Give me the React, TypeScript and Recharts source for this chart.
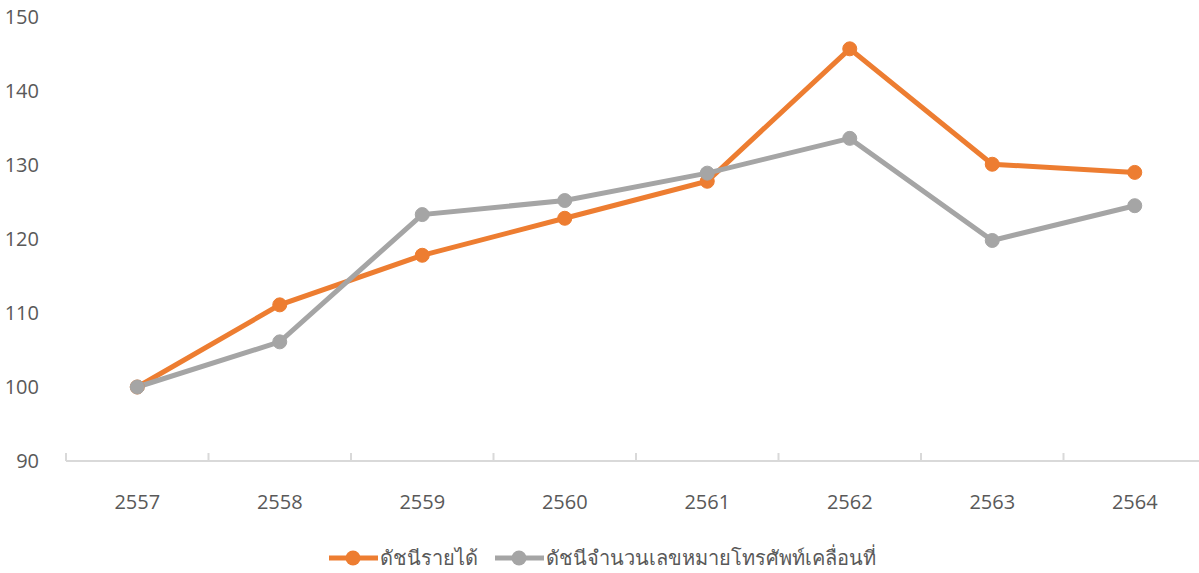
import React from 'react';
import { LineChart, Line, XAxis, YAxis, Legend } from 'recharts';

const YEARS = ['2557', '2558', '2559', '2560', '2561', '2562', '2563', '2564'];
const INCOME_INDEX = [100, 111.1, 117.8, 122.8, 127.8, 145.7, 130.1, 129.0];
const MOBILE_INDEX = [100, 106.1, 123.3, 125.2, 128.9, 133.6, 119.8, 124.5];
const Y_TICKS = [90, 100, 110, 120, 130, 140, 150];

const SERIES = [
    { key: 'income', name: 'ดัชนีรายได้', color: '#ED7D31', values: INCOME_INDEX },
    { key: 'mobile', name: 'ดัชนีจำนวนเลขหมายโทรศัพท์เคลื่อนที่', color: '#A5A5A5', values: MOBILE_INDEX },
];

const data = YEARS.map((year, i) => ({
    year,
    income: INCOME_INDEX[i],
    mobile: MOBILE_INDEX[i],
}));

const FONT = "'Open Sans', 'Noto Sans', sans-serif";
const TEXT_COLOR = '#595959';
const AXIS_COLOR = '#D9D9D9';

// category label plus Excel-style tick marks between categories (pointing up)
const YearTick = (props: any) => {
    const { x, y, payload, index, visibleTicksCount, width } = props;
    const half = payload?.offset || width / visibleTicksCount / 2;
    const axisY = y - 34;
    const isLast = index === visibleTicksCount - 1;
    return (
        <g>
            <line x1={x - half} x2={x - half} y1={axisY} y2={axisY - 8} stroke={AXIS_COLOR} strokeWidth={2} />
            {isLast && (
                <line x1={x + half} x2={x + half} y1={axisY} y2={axisY - 8} stroke={AXIS_COLOR} strokeWidth={2} />
            )}
            <text x={x} y={y} dy="0.71em" textAnchor="middle" fill={TEXT_COLOR} fontSize={20} fontFamily={FONT}>
                {payload.value}
            </text>
        </g>
    );
};

const LegendContent = () => (
    <div style={{ height: 52, position: 'relative', fontFamily: FONT, fontSize: 20, color: TEXT_COLOR }}>
        {SERIES.map((s, i) => (
            <div
                key={s.key}
                style={{
                    position: 'absolute',
                    left: i === 0 ? 329 : 495,
                    top: 22,
                    display: 'flex',
                    alignItems: 'center',
                    whiteSpace: 'nowrap',
                    height: 30,
                }}
            >
                <svg width={49} height={16} style={{ marginRight: 2 }}>
                    <line x1={0} x2={49} y1={8} y2={8} stroke={s.color} strokeWidth={5} />
                    <circle cx={24} cy={8} r={7.5} fill={s.color} />
                </svg>
                <span>{s.name}</span>
            </div>
        ))}
    </div>
);

const App: React.FC = () => {
    return (
        <div style={{ position: 'absolute', left: 0, top: 0, width: 1199, height: 573, overflow: 'hidden', background: '#fff' }}>
            <LineChart width={1207} height={573} data={data} margin={{ top: 17, right: 1, bottom: 0, left: 0 }}>
                <XAxis
                    dataKey="year"
                    scale="band"
                    height={60}
                    axisLine={{ stroke: AXIS_COLOR, strokeWidth: 2 }}
                    tickLine={false}
                    tickSize={0}
                    tickMargin={34}
                    interval={0}
                    tick={<YearTick />}
                />
                <YAxis
                    domain={[90, 150]}
                    ticks={Y_TICKS}
                    width={66}
                    axisLine={false}
                    tickLine={false}
                    tickSize={0}
                    tickMargin={27}
                    tick={{ fill: TEXT_COLOR, fontSize: 20, fontFamily: FONT }}
                />
                <Legend verticalAlign="bottom" content={<LegendContent />} wrapperStyle={{ left: 0, width: 1207 }} />
                {SERIES.map((s) => (
                    <Line
                        key={s.key}
                        dataKey={s.key}
                        name={s.name}
                        stroke={s.color}
                        strokeWidth={5}
                        dot={{ r: 7, fill: s.color, stroke: s.color, strokeWidth: 1 }}
                        activeDot={false}
                        isAnimationActive={false}
                    />
                ))}
            </LineChart>
        </div>
    );
};

export default App;
